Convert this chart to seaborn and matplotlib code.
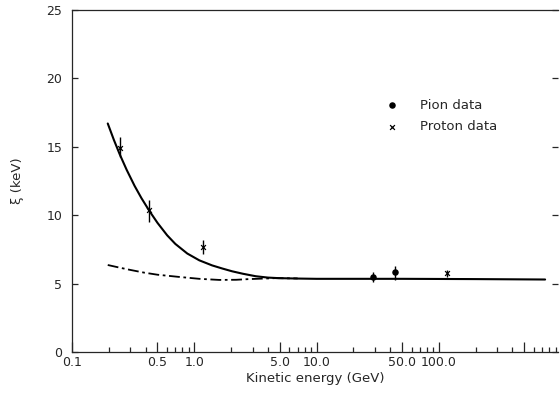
import numpy as np
import pandas as pd
import matplotlib
matplotlib.use("Agg")
import matplotlib.pyplot as plt
import matplotlib.ticker as mticker
import seaborn as sns

# data (kinetic energy in GeV, xi in keV)
solid_x = [0.196, 0.22, 0.245, 0.28, 0.325, 0.37, 0.43, 0.5, 0.6, 0.7, 0.876,
           1.1, 1.4, 1.7, 2.04, 2.5, 3.18, 4.0, 4.9, 7.0, 10.0, 50.0, 200.0, 740.0]
solid_y = [16.7, 15.5, 14.47, 13.31, 12.14, 11.24, 10.3, 9.44, 8.53, 7.9, 7.2,
           6.7, 6.33, 6.1, 5.9, 5.72, 5.54, 5.44, 5.4, 5.37, 5.35, 5.35, 5.33, 5.3]

dash_x = [0.196, 0.25, 0.3, 0.39, 0.5, 0.73, 1.1, 1.6, 2.2, 2.8, 4.6, 7.0]
dash_y = [6.36, 6.15, 6.0, 5.8, 5.65, 5.5, 5.35, 5.27, 5.28, 5.33, 5.4, 5.38]

pion_x = [29.0, 44.0]
pion_y = [5.5, 5.85]
pion_lo = [5.1, 5.25]
pion_hi = [5.85, 6.3]

proton_x = [0.245, 0.43, 1.18, 116.0]
proton_y = [14.9, 10.4, 7.7, 5.75]
proton_lo = [14.25, 9.5, 7.2, 5.5]
proton_hi = [15.7, 11.1, 8.2, 6.0]

tick_pos = [0.1, 0.5, 1.0, 5.0, 10.0, 50.0, 100.0, 500.0]
tick_lab = ["0.1", "0.5", "1.0", "5.0", "10.0", "50.0", "100.0", ""]

sns.set_style("ticks")
plt.rcParams["font.family"] = ["DejaVu Sans"]

fig = plt.figure(figsize=(5.6, 3.96), dpi=100)
ax = fig.add_axes([0.1286, 0.111, 0.8685, 0.864])

sns.lineplot(x=solid_x, y=solid_y, ax=ax, color="black", lw=1.5, sort=False)
sns.lineplot(x=dash_x, y=dash_y, ax=ax, color="black", lw=1.3, sort=False,
             dashes=False, linestyle=(0, (6, 2, 1.5, 2)))

# error bars
ax.vlines(pion_x, pion_lo, pion_hi, color="black", lw=1.0)
ax.vlines(proton_x, proton_lo, proton_hi, color="black", lw=1.0)

sns.scatterplot(x=pion_x, y=pion_y, ax=ax, marker="o", s=22, color="black",
                edgecolor="black", linewidth=0, label="Pion data")
sns.scatterplot(x=proton_x, y=proton_y, ax=ax, marker="x", s=12, color="black",
                linewidth=0.9, label="Proton data")

ax.set_xscale("log")
ax.set_xlim(0.1, 950)
ax.set_ylim(0, 25)
ax.set_yticks([0, 5, 10, 15, 20, 25])

ax.xaxis.set_major_locator(mticker.FixedLocator(tick_pos))
ax.xaxis.set_major_formatter(mticker.FixedFormatter(tick_lab))
ax.xaxis.set_minor_locator(mticker.LogLocator(base=10, subs=[2, 3, 4, 6, 7, 8, 9], numticks=20))
ax.xaxis.set_minor_formatter(mticker.NullFormatter())

ax.yaxis.set_ticks_position("both")
ax.tick_params(axis="x", which="major", direction="in", length=7, width=0.9,
               labelsize=9, pad=3, top=False)
ax.tick_params(axis="x", which="minor", direction="in", length=3.5, width=0.9, top=False)
ax.tick_params(axis="y", which="major", direction="in", length=4, width=0.9,
               labelsize=9, pad=7, labelright=False)

for s in ax.spines.values():
    s.set_linewidth(0.9)
ax.spines["right"].set_visible(False)

ax.set_xlabel("Kinetic energy (GeV)", fontsize=9.5, labelpad=2)
ax.set_ylabel("ξ (keV)", fontsize=9.5, labelpad=16)

leg = ax.legend(loc="upper left", bbox_to_anchor=(0.62, 0.775), frameon=False,
                fontsize=9.5, handletextpad=1.6, labelspacing=0.65, handlelength=1.0)

fig.savefig("out.png", dpi=100)
